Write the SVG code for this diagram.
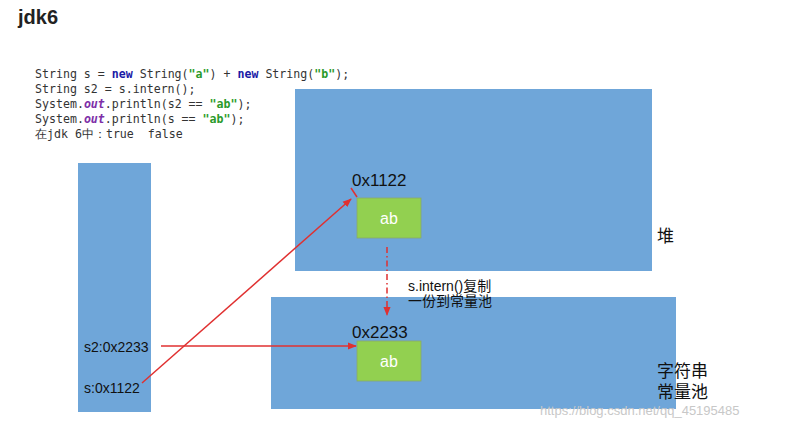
<svg xmlns="http://www.w3.org/2000/svg" width="794" height="422" viewBox="0 0 794 422">
<defs>
<style>
.blk{fill:#6fa6d9;}
.grn{fill:#92d050;stroke:#8aa86a;stroke-width:0.8;}
.code{font-family:"DejaVu Sans Mono","Liberation Mono",monospace;font-size:11.6px;fill:#333;}
.kw{fill:#1a1aa6;font-weight:bold;}
.str{fill:#2a9a2a;font-weight:bold;}
.fld{fill:#7d2fa8;font-weight:bold;font-style:italic;}
.lbl{font-family:"Liberation Sans","Noto Sans CJK SC",sans-serif;fill:#111;}
.red{stroke:#e03030;stroke-width:1.5;fill:none;}
</style>
<marker id="ah" viewBox="0 0 10 10" refX="9" refY="5" markerWidth="6" markerHeight="6" orient="auto-start-reverse">
<path d="M0,1 L10,5 L0,9 z" fill="#e03030"/>
</marker>
</defs>
<rect width="794" height="422" fill="#fff"/>
<text x="18" y="24" font-family="Liberation Sans, sans-serif" font-size="20" font-weight="bold" fill="#222">jdk6</text>
<g id="code">
<text class="code" x="35" y="78">String s = <tspan class="kw">new</tspan> String(<tspan class="str">"a"</tspan>) + <tspan class="kw">new</tspan> String(<tspan class="str">"b"</tspan>);</text>
<text class="code" x="35" y="93">String s2 = s.intern();</text>
<text class="code" x="35" y="108">System.<tspan class="fld">out</tspan>.println(s2 == <tspan class="str">"ab"</tspan>);</text>
<text class="code" x="35" y="123">System.<tspan class="fld">out</tspan>.println(s == <tspan class="str">"ab"</tspan>);</text>
<text class="code" x="35" y="138" font-family="'DejaVu Sans Mono','Noto Sans CJK SC',monospace">在jdk 6中：true&#160; false</text>
</g>
<g id="heap">
<rect class="blk" x="295" y="89" width="357" height="182"/>
<text class="lbl" x="657" y="242" font-size="17">堆</text>
</g>
<g id="pool">
<rect class="blk" x="271" y="297" width="405" height="112"/>
<text class="lbl" x="657" y="377" font-size="17">字符串</text>
<text class="lbl" x="657" y="398" font-size="17">常量池</text>
</g>
<g id="stack">
<rect class="blk" x="78" y="163" width="73" height="249"/>
<text class="lbl" x="84" y="352" font-size="14">s2:0x2233</text>
<text class="lbl" x="84" y="393" font-size="14">s:0x1122</text>
</g>
<g id="heap-ab">
<text class="lbl" x="352" y="186" font-size="17">0x1122</text>
<rect class="grn" x="357" y="198" width="64" height="40"/>
<text x="389" y="224" text-anchor="middle" font-family="Liberation Sans, sans-serif" font-size="16" fill="#fff">ab</text>
</g>
<g id="pool-ab">
<text class="lbl" x="352" y="338" font-size="17">0x2233</text>
<rect class="grn" x="357" y="341" width="64" height="40"/>
<text x="389" y="367" text-anchor="middle" font-family="Liberation Sans, sans-serif" font-size="16" fill="#fff">ab</text>
</g>
<g id="connectors">
<line class="red" x1="142" y1="383" x2="351" y2="199" marker-end="url(#ah)"/>
<line class="red" x1="351" y1="188" x2="357" y2="197"/>
<line class="red" x1="161" y1="346" x2="356" y2="346" marker-end="url(#ah)"/>
<line class="red" x1="387" y1="247" x2="387" y2="315" stroke-dasharray="6,3,1.5,3" marker-end="url(#ah)"/>
<text class="lbl" x="408" y="291" font-size="14">s.intern()复制</text>
<text class="lbl" x="408" y="306" font-size="14">一份到常量池</text>
</g>
<text x="540" y="415" font-family="Liberation Sans, sans-serif" font-size="13" fill="#c8c8c8">https://blog.csdn.net/qq_45195485</text>
</svg>
